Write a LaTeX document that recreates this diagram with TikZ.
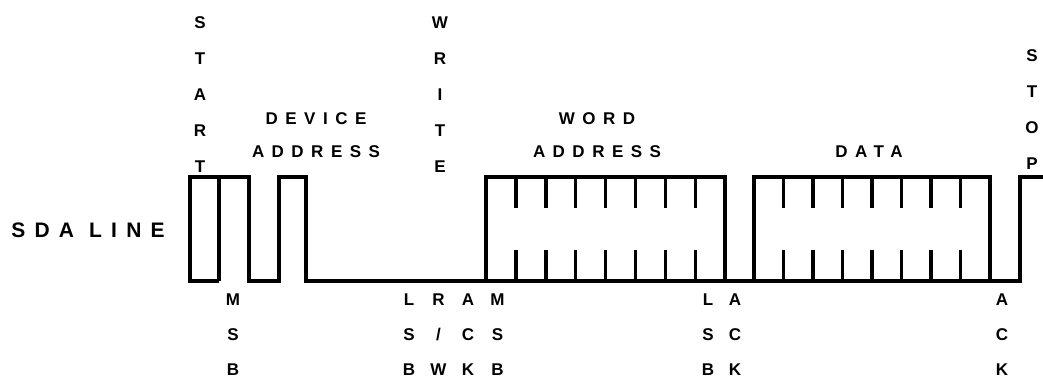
\documentclass[tikz,border=0pt]{standalone}
\usepackage{fontspec}
\setmainfont{Liberation Sans}
\newfontfamily\spacedfont[LetterSpace=44]{Liberation Sans}
\usetikzlibrary{positioning}

\tikzset{
  sig/.style={line width=3.5pt, line join=miter},
  letters/.style={font=\bfseries\fontsize{17}{36}\selectfont, align=center, inner sep=0pt},
  bits/.style={font=\bfseries\fontsize{17}{35}\selectfont, align=center, inner sep=0pt},
  field/.style={font=\spacedfont\bfseries\fontsize{17}{33}\selectfont, align=center, inner sep=0pt}
}

\begin{document}
\begin{tikzpicture}[x=1pt,y=-1pt,node distance=29.5pt]
  \useasboundingbox (0,0) rectangle (1043,381);

  % labels above the line
  \node[field,font=\spacedfont\bfseries\fontsize{21}{24}\selectfont] (sda) at (88,230) {SDA LINE};
  \node[letters] (start) at (200,95) {S\\T\\A\\R\\T};
  \node[field]   (devaddr) at (316,135.5) {DEVICE\\ADDRESS};
  \node[letters] (write) at (440,95) {W\\R\\I\\T\\E};
  \node[field]   (wordaddr) at (597,135.5) {WORD\\ADDRESS};
  \node[field]   (data) at (869,152) {DATA};
  \node[letters] (stop) at (1032,110) {S\\T\\O\\P};

  % labels below the line
  \node[bits] (msb1) at (233,335) {M\\S\\B};
  \node[bits] (lsb1) at (409,335) {L\\S\\B};
  \node[bits] (rw)   [right of=lsb1] {R\\/\\W};
  \node[bits] (ack1) [right of=rw]   {A\\C\\K};
  \node[bits] (msb2) [right of=ack1] {M\\S\\B};
  \node[bits] (lsb2) at (708,335) {L\\S\\B};
  \node[bits] (ack2) at (735,335) {A\\C\\K};
  \node[bits] (ack3) at (1002,335) {A\\C\\K};

  % the SDA waveform
  \draw[sig] (219,281) -- (190,281) -- (190,177) -- (249,177) -- (249,281)
    -- (279,281) -- (279,177) -- (306,177) -- (306,281) -- (1020,281)
    -- (1020,177) -- (1043,177);
  \draw[sig] (219,281) -- (219,177);
  \draw[sig] (486,281) rectangle (725,177);
  \draw[sig] (754,281) rectangle (990,177);
  \foreach \x in {1,...,7} {
    \draw[sig] (486+29.9*\x,177) -- (486+29.9*\x,208);
    \draw[sig] (486+29.9*\x,250) -- (486+29.9*\x,281);
    \draw[sig] (754+29.5*\x,177) -- (754+29.5*\x,208);
    \draw[sig] (754+29.5*\x,250) -- (754+29.5*\x,281);
  }
\end{tikzpicture}
\end{document}
